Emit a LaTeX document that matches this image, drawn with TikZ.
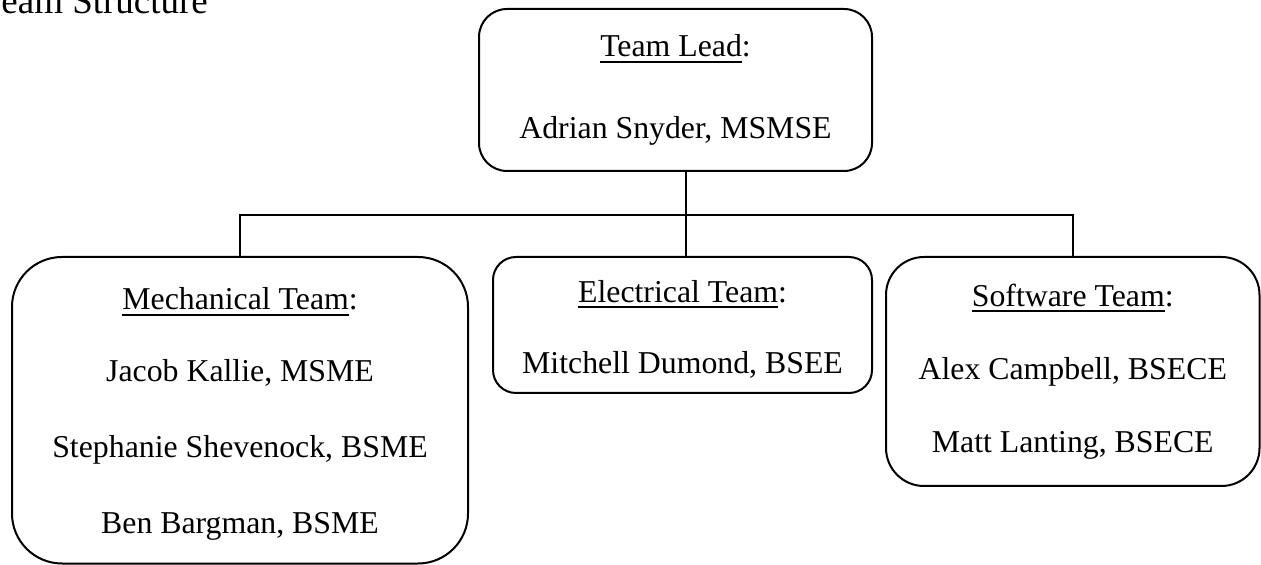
\documentclass[tikz,border=0pt]{standalone}
\usepackage{fontspec}
\setmainfont{Liberation Serif}
\usepackage{tikz}

\newsavebox{\headbox}
\newcommand{\teamhead}[1]{\sbox{\headbox}{#1}\rlap{\rule[-3pt]{\wd\headbox}{0.9pt}}\usebox{\headbox}}

\begin{document}
\begin{tikzpicture}[x=0.5pt,y=-0.5pt,
    member/.style={draw,line width=1pt,align=center,inner sep=0pt,
      font=\fontsize{15.9pt}{36.5pt}\selectfont},
    link/.style={line width=1pt}]
  \useasboundingbox (0,0) rectangle (1261,565);
  \node [anchor=base west,inner sep=0pt,font=\fontsize{18.5pt}{22pt}\selectfont] (title) at (1,14) {\llap{T}eam Structure};
  \node [member,rounded corners=14pt,minimum width=196.5pt,minimum height=81pt] (lead) at (675.5,90)
    {\teamhead{Team Lead}:\\[4.5pt] Adrian Snyder, MSMSE};
  \node [member,rounded corners=25pt,minimum width=228pt,minimum height=153.25pt] (mech) at (240,410.25)
    {\rule{0pt}{15pt}\teamhead{Mechanical Team}:\\[-0.5pt] Jacob Kallie, MSME\\[1.5pt] Stephanie Shevenock, BSME\\[1.5pt] Ben Bargman, BSME};
  \node [member,rounded corners=11.5pt,minimum width=189.5pt,minimum height=68pt] (elec) at (682.5,325)
    {\rule{0pt}{15pt}\teamhead{Electrical Team}:\\[-1pt] Mitchell Dumond, BSEE};
  \node [member,rounded corners=19pt,minimum width=186.75pt,minimum height=114.5pt] (soft) at (1072.75,371.5)
    {\teamhead{Software Team}:\\ Alex Campbell, BSECE\\ Matt Lanting, BSECE};
  \coordinate (fork) at (686,215);
  \draw [link] (fork |- lead.south) -- (fork |- elec.north);
  \draw [link] (mech.north) |- (fork) -| (soft.north);
\end{tikzpicture}
\end{document}
